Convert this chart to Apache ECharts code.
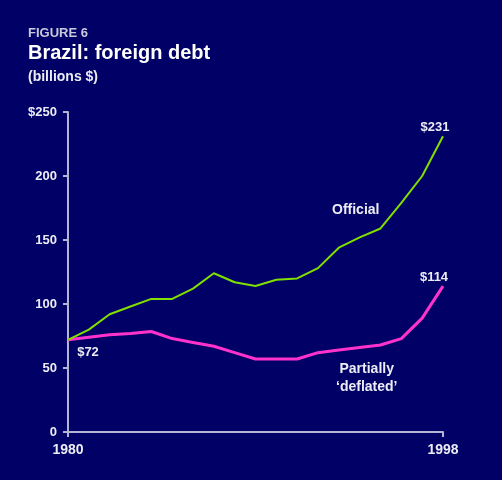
<!DOCTYPE html>
<html>
<head>
<meta charset="utf-8">
<script src="https://cdn.jsdelivr.net/npm/echarts@6/dist/echarts.min.js"></script>
<style>
html,body{margin:0;padding:0;background:#000066;}
#chart{width:502px;height:480px;}
</style>
</head>
<body>
<div id="chart"></div>
<script>
var years = [1980,1981,1982,1983,1984,1985,1986,1987,1988,1989,1990,1991,1992,1993,1994,1995,1996,1997,1998];
var official = [72,80,92,98,104,104,112,124,117,114,119,120,128,144,152,159,179,200,231];
var deflated = [72,74,76,77,78.5,73,70,67,62,57,57,57,62,64,66,68,73,89,114];
var yTickLabels = {0:'0',50:'50',100:'100',150:'150',200:'200',250:'$250'};
var xTickLabels = {1980:'1980',1998:'1998'};

var font = '"Liberation Sans", Arial, sans-serif';
var txt = '#ececf4';
var axisCol = '#b4b4d4';

function pairs(vals, labelFn){
  return years.map(function(y,i){
    var item = {value:[y, vals[i]]};
    var l = labelFn(i);
    if (l) item.label = l;
    return item;
  });
}
var lblStyle = {show:true,color:txt,fontFamily:font,fontSize:13,fontWeight:'bold'};

var chart = echarts.init(document.getElementById('chart'));
chart.setOption({
  backgroundColor:'#000066',
  animation:false,
  title:[
    {text:'FIGURE 6',left:23,top:22,textStyle:{color:'#c8c8dc',fontFamily:font,fontSize:13,fontWeight:'bold'}},
    {text:'Brazil: foreign debt',left:23,top:38,textStyle:{color:'#ffffff',fontFamily:font,fontSize:20,fontWeight:'bold'}},
    {text:'(billions $)',left:23,top:65,textStyle:{color:txt,fontFamily:font,fontSize:14,fontWeight:'bold'}}
  ],
  grid:{left:68,right:59,top:112,bottom:48,containLabel:false},
  xAxis:{
    type:'value',min:1980,max:1998,interval:18,
    splitLine:{show:false},
    axisLine:{show:true,lineStyle:{color:axisCol,width:2}},
    axisTick:{show:true,length:5,lineStyle:{color:axisCol,width:2}},
    axisLabel:{color:txt,fontFamily:font,fontSize:14,fontWeight:'bold',margin:11,
      formatter:function(v){return xTickLabels[v]||'';}}
  },
  yAxis:{
    type:'value',min:0,max:250,interval:50,
    splitLine:{show:false},
    axisLine:{show:true,lineStyle:{color:axisCol,width:2}},
    axisTick:{show:true,length:5,lineStyle:{color:axisCol,width:2}},
    axisLabel:{color:txt,fontFamily:font,fontSize:13,fontWeight:'bold',margin:11,
      formatter:function(v){return yTickLabels[v]||'';}}
  },
  series:[
    {
      type:'line',name:'Official',symbol:'circle',symbolSize:0,showSymbol:true,
      lineStyle:{color:'#80e000',width:2},
      itemStyle:{color:'#80e000'},
      data:pairs(official,function(i){
        if(i===years.length-1) return Object.assign({},lblStyle,{position:'top',offset:[-8,3],formatter:'$'+official[i]});
        return null;
      }),
      z:3
    },
    {
      type:'line',name:'Partially deflated',symbol:'circle',symbolSize:0,showSymbol:true,
      lineStyle:{color:'#ff33cc',width:3},
      itemStyle:{color:'#ff33cc'},
      data:pairs(deflated,function(i){
        if(i===0) return Object.assign({},lblStyle,{position:'bottom',offset:[20,1],formatter:'$'+deflated[i]});
        if(i===years.length-1) return Object.assign({},lblStyle,{position:'top',offset:[-9,3],formatter:'$'+deflated[i]});
        return null;
      }),
      z:2
    }
  ],
  graphic:[
    {type:'text',left:332,top:203,style:{text:'Official',fill:txt,font:'bold 14px '+font}},
    {type:'text',left:336,top:360,style:{text:'Partially\n\u2018deflated\u2019',fill:txt,font:'bold 14px '+font,textAlign:'center',lineHeight:18}}
  ]
});
</script>
</body>
</html>
